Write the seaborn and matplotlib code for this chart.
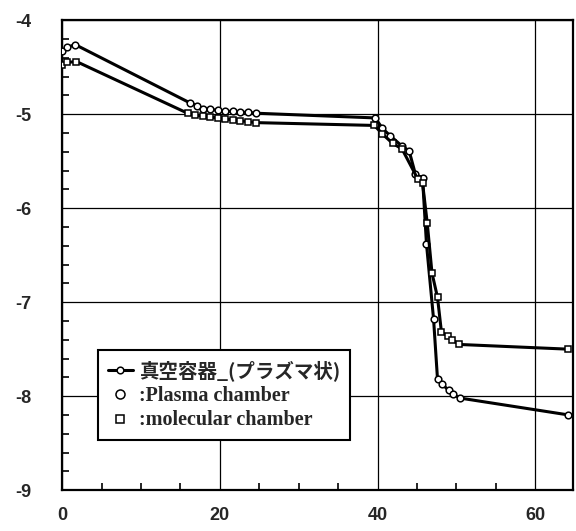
import matplotlib
matplotlib.use("Agg")
import matplotlib.pyplot as plt
from matplotlib.lines import Line2D
from matplotlib.ticker import MultipleLocator
import seaborn as sns
import pandas as pd

# ---- data ----
plasma_x = [0.0, 0.6, 1.65, 16.2, 17.1, 17.9, 18.8, 19.8, 20.7, 21.6, 22.6, 23.6, 24.6,
            39.7, 40.6, 41.6, 43.1, 44.0, 44.8, 45.7, 46.2, 47.1, 47.6, 48.2, 49.0, 49.6, 50.4, 64.2]
plasma_y = [-4.33, -4.29, -4.26, -4.88, -4.91, -4.94, -4.95, -4.96, -4.97, -4.97, -4.98, -4.98, -4.99,
            -5.04, -5.15, -5.23, -5.34, -5.39, -5.64, -5.68, -6.38, -7.18, -7.82, -7.87, -7.94, -7.98, -8.02, -8.20]

molec_x = [0.0, 0.6, 1.8, 15.9, 16.9, 17.8, 18.7, 19.7, 20.6, 21.6, 22.6, 23.6, 24.6,
           39.6, 40.6, 41.9, 43.1, 45.1, 45.7, 46.3, 46.9, 47.6, 48.1, 48.9, 49.5, 50.3, 64.1]
molec_y = [-4.48, -4.45, -4.44, -4.99, -5.01, -5.02, -5.03, -5.04, -5.05, -5.06, -5.07, -5.08, -5.09,
           -5.12, -5.21, -5.31, -5.37, -5.69, -5.73, -6.16, -6.69, -6.95, -7.32, -7.36, -7.40, -7.45, -7.50]

x_ticks = [0, 20, 40, 60]
y_ticks = [-9, -8, -7, -6, -5, -4]
legend_labels = ["真空容器_(プラズマ状)", ":Plasma chamber", ":molecular chamber"]

df_p = pd.DataFrame({"x": plasma_x, "y": plasma_y})
df_m = pd.DataFrame({"x": molec_x, "y": molec_y})

sns.set_style("ticks")
plt.rcParams["font.family"] = ["Liberation Sans Narrow", "Liberation Sans", "DejaVu Sans"]
plt.rcParams["axes.unicode_minus"] = False

fig = plt.figure(figsize=(5.76, 5.31), dpi=100)
ax = fig.add_axes([0.108, 0.077, 0.887, 0.885])

line_kw = dict(color="black", linewidth=2.2, markersize=4.8, markerfacecolor="white",
               markeredgecolor="black", markeredgewidth=1.1, estimator=None, sort=False, legend=False)
sns.lineplot(data=df_p, x="x", y="y", marker="o", ax=ax, zorder=3, **line_kw)
sns.lineplot(data=df_m, x="x", y="y", marker="s", ax=ax, zorder=3, **line_kw)

ax.set_xlim(0, 64.8)
ax.set_ylim(-9, -4)
ax.set_xticks(x_ticks)
ax.set_yticks(y_ticks)
ax.set_xticklabels([str(t) for t in x_ticks])
ax.set_yticklabels([str(t) for t in y_ticks])
ax.xaxis.set_minor_locator(MultipleLocator(5))
ax.yaxis.set_minor_locator(MultipleLocator(0.2))
ax.set_xlabel("")
ax.set_ylabel("")

ax.grid(True, which="major", color="black", linewidth=0.9)
for s in ax.spines.values():
    s.set_linewidth(1.6)
    s.set_color("black")

ax.tick_params(axis="both", which="both", direction="in", color="black")
ax.tick_params(axis="y", which="major", length=0, pad=22, labelsize=13)
ax.tick_params(axis="x", which="major", length=0, pad=12, labelsize=13)
ax.tick_params(axis="both", which="minor", length=5, width=1.2)
for lab in ax.get_xticklabels() + ax.get_yticklabels():
    lab.set_fontweight("bold")

handles = [
    Line2D([], [], color="black", linewidth=2.2, marker="o", markersize=4.8,
           markerfacecolor="white", markeredgecolor="black", markeredgewidth=1.1),
    Line2D([], [], linestyle="none", marker="o", markersize=6.5,
           markerfacecolor="white", markeredgecolor="black", markeredgewidth=1.1),
    Line2D([], [], linestyle="none", marker="s", markersize=5.5,
           markerfacecolor="white", markeredgecolor="black", markeredgewidth=1.1),
]
leg = ax.legend(handles, legend_labels, loc="upper left", bbox_to_anchor=(0.07, 0.298),
                borderaxespad=0, frameon=True, fancybox=False, edgecolor="black",
                framealpha=1, handlelength=1.3, handletextpad=0.3, labelspacing=0.25,
                borderpad=0.5, fontsize=14)
leg.get_frame().set_linewidth(1.5)
leg.set_zorder(5)
texts = leg.get_texts()
texts[0].set_fontfamily(["Noto Sans CJK JP", "DejaVu Sans"])
texts[0].set_fontweight("bold")
for t in texts[1:]:
    t.set_fontfamily(["Liberation Serif", "DejaVu Serif"])
    t.set_fontweight("bold")
    t.set_fontsize(14.5)

fig.savefig("out.png", dpi=100)
